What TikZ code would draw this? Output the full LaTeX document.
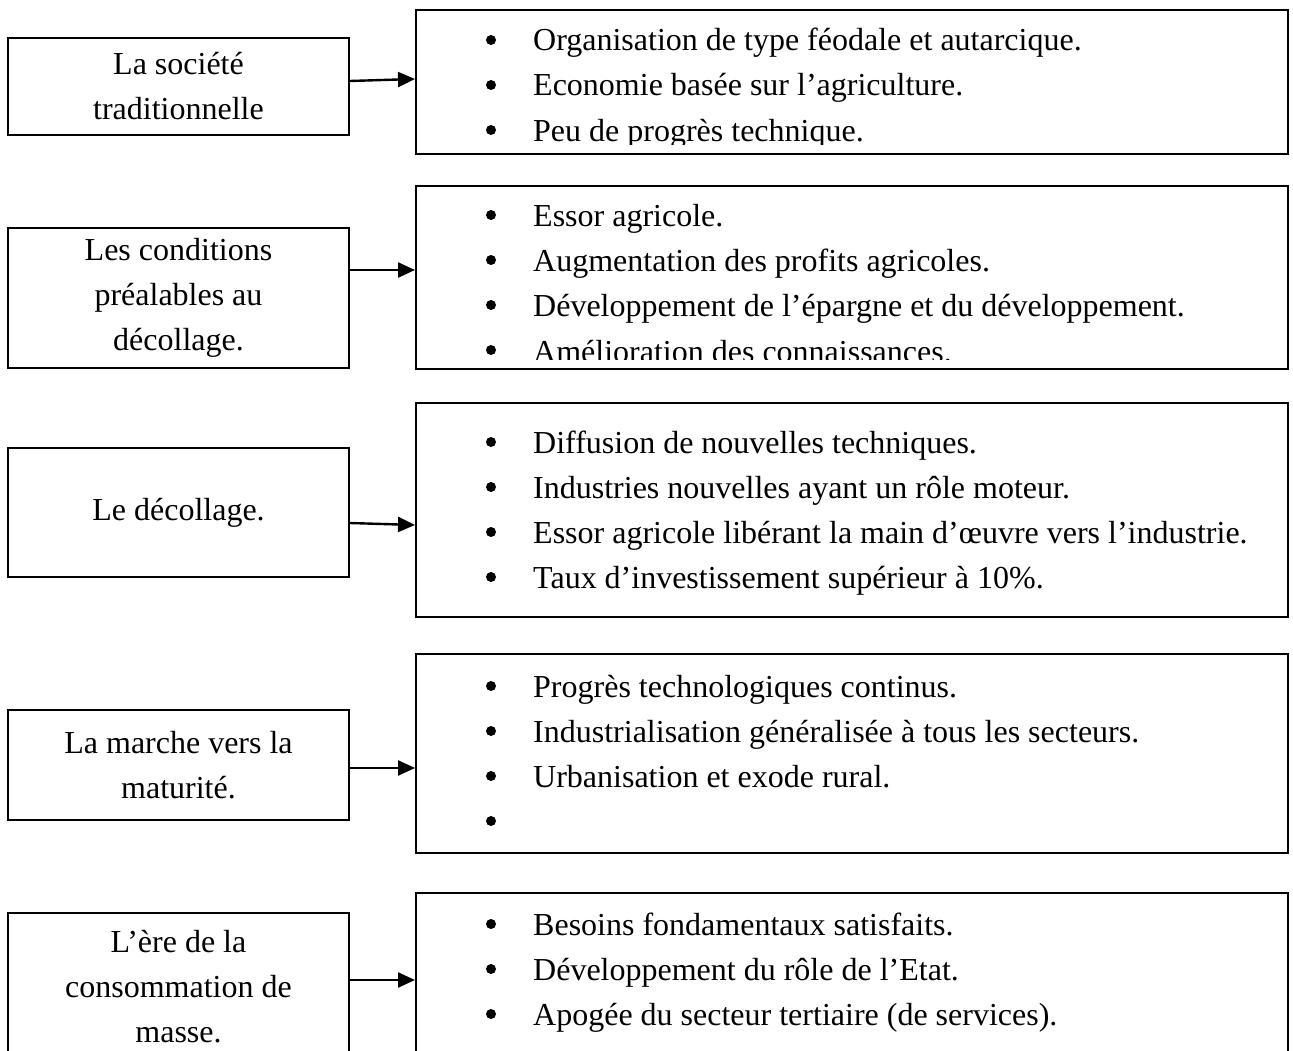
\documentclass[tikz,border=0pt]{standalone}
\usepackage{fontspec}
\setmainfont{Liberation Serif}
\usetikzlibrary{arrows.meta, positioning}

\tikzset{
  stagebox/.style={draw, line width=1.9pt, minimum width=341pt, align=center, inner sep=0pt, font=\fontsize{32}{45}\selectfont},
  featbox/.style={draw, line width=1.9pt, minimum width=872pt, anchor=north west, inner sep=0pt},
  featline/.style={anchor=base west, inner sep=0pt, font=\fontsize{32}{45}\selectfont},
  dot/.style={circle, fill, inner sep=0pt, minimum size=10pt},
  link/.style={line width=2.4pt, -{Triangle[length=17pt,width=15pt]}}
}

\begin{document}
\begin{tikzpicture}[x=1pt, y=-1pt]
\useasboundingbox (0,0) rectangle (1293,1051);
\clip (0,0) rectangle (1293,1051);

% stages on the left
\node[stagebox, minimum height=97pt] (s1) at (178.5,86.5) {La société\\traditionnelle};
\node[stagebox, minimum height=140pt] (s2) at (178.5,298) {Les conditions\\préalables au\\décollage.};
\node[stagebox, minimum height=129pt] (s3) at (178.5,512.5) {Le décollage.};
\node[stagebox, minimum height=110pt] (s4) at (178.5,765) {La marche vers la\\maturité.};
\node[stagebox, minimum height=148pt] (s5) at (178.5,987) {L’ère de la\\consommation de\\masse.};

% boxes on the right
\node[featbox, minimum height=144pt] (f1) at (415,9) {};
\node[featbox, minimum height=183pt] (f2) at (415,185) {};
\node[featbox, minimum height=214pt] (f3) at (415,402) {};
\node[featbox, minimum height=199pt] (f4) at (415,653) {};
\node[featbox, minimum height=190pt] (f5) at (415,892) {};

% bullets
\begin{scope}
\clip (f1.north west) rectangle ([yshift=10pt]f1.south east);
\node[dot] (d11) at (491,40) {}; \node[featline] (t11) at (533,51) {Organisation de type féodale et autarcique.};
\node[dot] (d12) at (491,85) {}; \node[featline] (t12) at (533,96) {Economie basée sur l’agriculture.};
\node[dot] (d13) at (491,130) {}; \node[featline] (t13) at (533,142) {Peu de progrès technique.};
\end{scope}
\begin{scope}
\clip (f2.north west) rectangle ([yshift=10pt]f2.south east);
\node[dot] (d21) at (491,215) {}; \node[featline] (t21) at (533,226) {Essor agricole.};
\node[dot] (d22) at (491,260) {}; \node[featline] (t22) at (533,271) {Augmentation des profits agricoles.};
\node[dot] (d23) at (491,305) {}; \node[featline] (t23) at (533,316) {Développement de l’épargne et du développement.};
\node[dot] (d24) at (491,350) {}; \node[featline] (t24) at (533,362) {Amélioration des connaissances.};
\end{scope}
\node[dot] (d31) at (491,442) {}; \node[featline] (t31) at (533,453) {Diffusion de nouvelles techniques.};
\node[dot] (d32) at (491,487) {}; \node[featline] (t32) at (533,498) {Industries nouvelles ayant un rôle moteur.};
\node[dot] (d33) at (491,532) {}; \node[featline] (t33) at (533,543) {Essor agricole libérant la main d’œuvre vers l’industrie.};
\node[dot] (d34) at (491,577) {}; \node[featline] (t34) at (533,588) {Taux d’investissement supérieur à 10\%.};
\node[dot] (d41) at (491,686) {}; \node[featline] (t41) at (533,697) {Progrès technologiques continus.};
\node[dot] (d42) at (491,731) {}; \node[featline] (t42) at (533,742) {Industrialisation généralisée à tous les secteurs.};
\node[dot] (d43) at (491,776) {}; \node[featline] (t43) at (533,787) {Urbanisation et exode rural.};
\node[dot] (d44) at (491,821) {};
\node[dot] (d51) at (491,924) {}; \node[featline] (t51) at (533,935) {Besoins fondamentaux satisfaits.};
\node[dot] (d52) at (491,969) {}; \node[featline] (t52) at (533,980) {Développement du rôle de l’Etat.};
\node[dot] (d53) at (491,1014) {}; \node[featline] (t53) at (533,1025) {Apogée du secteur tertiaire (de services).};

% arrows
\draw[link] (s1.east |- 0,81) -- (f1.west |- 0,79);
\draw[link] (s2.east |- 0,270) -- (f2.west |- 0,270);
\draw[link] (s3.east |- 0,523) -- (f3.west |- 0,525);
\draw[link] (s4.east |- 0,768) -- (f4.west |- 0,768);
\draw[link] (s5.east |- 0,980) -- (f5.west |- 0,980);
\end{tikzpicture}
\end{document}
